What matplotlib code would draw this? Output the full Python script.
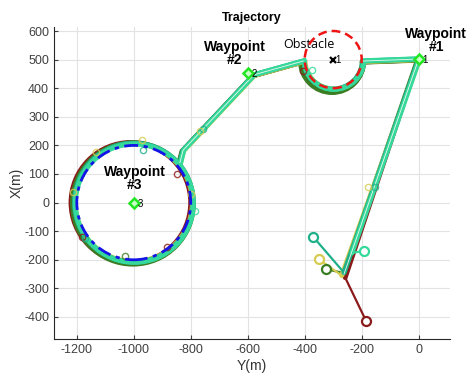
import numpy as np
import matplotlib
matplotlib.use('Agg')
import matplotlib.pyplot as plt
from matplotlib.patches import Circle, Arc

plt.rcParams['font.family'] = ['Liberation Sans', 'DejaVu Sans']
plt.rcParams['axes.unicode_minus'] = False

# vehiculos (horizontal = Y(m), vertical = X(m))
colores = ['#8b1a1a', '#3b7d23', '#d6cc52', '#1fb08a', '#35d99b']
start_y = [-184, -326, -351, -370, -193]
start_x = [-415, -233, -198, -120, -169]
union_y = [-258, -262, -270, -262, -234]
union_x = [-262, -246, -255, -245, -176]
off_y = [-2, -4, 2, 0, 3]
off_x = [-3, -4, -2, 0, 1]
off_r = [6, 8, -2, 0, 2]

# ruta comun
ruta1_y = [-262, 0, -195]
ruta1_x = [-250, 502, 495]
ruta2_y = [-405, -578, -827, -838]
ruta2_x = [495, 447, 183, 140]

# obstaculo y orbita
obs_y, obs_x, obs_r = -300, 500, 100
evasion_r = 103
orb_y, orb_x, orb_r = -1000, 0, 200
orb_cy = [-1010, -1003, -1000, -1000, -998]
orb_cx = [0, -3, 0, 0, -2]
orb_rv = [210, 212, 206, 208, 207]

# waypoints
wp_y = [0, -600, -1000]
wp_x = [502, 453, 0]
wp_txt = ['Waypoint\n#1', 'Waypoint\n#2', 'Waypoint\n#3']
wp_lbl_y = [62, -646, -996]
wp_lbl_x = [566, 522, 84]

# marcadores intermedios
mk_y = [-757, -768, -154, -178, -407, -376, -1133, -970, -968, -1214, -1183,
        -1170, -1032, -885, -850, -786, -800]
mk_x = [259, 250, 54, 53, 459, 465, 177, 218, 183, 36, -122, -125, -187,
        -157, 101, -28, 30]
mk_c = [3, 2, 3, 2, 0, 4, 2, 2, 3, 2, 0, 3, 1, 0, 0, 4, 2]

fig = plt.figure(figsize=(4.68, 3.77), dpi=100)
ax = fig.add_axes([54/468, 1-339/377, 396/468, 312/377])

lw = 3.6
for i, c in enumerate(colores):
    z = 2 + i * 0.1
    ax.add_patch(Circle((orb_cy[i], orb_cx[i]), orb_rv[i], fill=False,
                        edgecolor=c, lw=lw, zorder=z))
    ax.add_patch(Arc((obs_y + off_y[i], obs_x + off_x[i]), 2*(evasion_r+off_r[i]),
                     2*(evasion_r+off_r[i]), theta1=180, theta2=360,
                     edgecolor=c, lw=lw, zorder=z))
    # tramo inicial (delgado)
    ax.plot([start_y[i], union_y[i]], [start_x[i], union_x[i]], color=c, lw=1.6,
            solid_capstyle='round', zorder=z)
    # banda principal
    y1 = [union_y[i]] + [v + off_y[i] for v in ruta1_y[1:]]
    x1 = [union_x[i]] + [v + off_x[i] for v in ruta1_x[1:]]
    ax.plot(y1, x1, color=c, lw=lw, solid_joinstyle='round',
            solid_capstyle='round', zorder=z)
    ax.plot([v + off_y[i] for v in ruta2_y], [v + off_x[i] for v in ruta2_x],
            color=c, lw=lw, solid_joinstyle='round', zorder=z)

# linea clara central
ax.plot(ruta1_y, ruta1_x, color='#eef7ee', lw=0.6, zorder=3)
ax.plot(ruta2_y, ruta2_x, color='#eef7ee', lw=0.6, zorder=3)

# posiciones iniciales
for i, c in enumerate(colores):
    ax.plot(start_y[i], start_x[i], 'o', ms=6.5, mfc='white', mec=c, mew=1.6, zorder=5)

for y, x, k in zip(mk_y, mk_x, mk_c):
    ax.plot(y, x, 'o', ms=4.5, mfc='none', mec=colores[k], mew=1.0, alpha=0.8, zorder=4)

# circulo de referencia y obstaculo
ax.add_patch(Circle((orb_y, orb_x), orb_r, fill=False, edgecolor='#1414e6', lw=2,
                    ls=(0, (5, 2, 1.5, 2)), zorder=6))
ax.text(-386, 553, 'Obstacle', fontsize=9, ha='center', va='center',
        family=['Open Sans'], zorder=5.5)
ax.add_patch(Circle((obs_y, obs_x), obs_r, fill=False, edgecolor='#ee1414', lw=1.8,
                    ls=(0, (3.5, 2)), zorder=6))
ax.plot(obs_y, obs_x, 'x', color='k', ms=5, mew=1.6, zorder=7)
ax.text(obs_y + 8, obs_x, '1', fontsize=7, va='center', zorder=7)

for i in range(3):
    ax.plot(wp_y[i], wp_x[i], 'D', ms=5.5, mfc='#c8ffc8', mec='#22e622', mew=1.8, zorder=7)
    ax.text(wp_y[i] + 12, wp_x[i] - 4, str(i + 1), fontsize=7, va='center', zorder=7)
    ax.text(wp_lbl_y[i], wp_lbl_x[i], wp_txt[i], fontsize=10, fontweight='bold',
            ha='center', va='center', linespacing=0.9, zorder=8, clip_on=False)

ax.set_xlim(-1280, 110)
ax.set_ylim(-477, 614)
ax.set_xticks(np.arange(-1200, 1, 200))
ax.set_yticks(np.arange(-400, 601, 100))
ax.grid(True, color='#e3e3e3', lw=0.8)
ax.set_axisbelow(True)
for s in ['top', 'right']:
    ax.spines[s].set_visible(False)
for s in ['left', 'bottom']:
    ax.spines[s].set_color('#262626')
ax.tick_params(direction='in', length=3, labelsize=9, colors='#404040')
ax.set_xlabel('Y(m)', fontsize=10, color='#333333', labelpad=2)
ax.set_ylabel('X(m)', fontsize=10, color='#333333', labelpad=0)
ax.set_title('Trajectory', fontsize=9, fontweight='bold', pad=4)

fig.savefig('out.png', dpi=100)
